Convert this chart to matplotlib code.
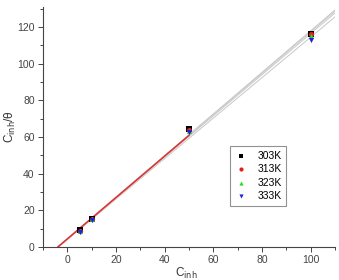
import numpy as np
import matplotlib
matplotlib.use("Agg")
import matplotlib.pyplot as plt
from matplotlib.ticker import MultipleLocator

plt.rcParams['font.family'] = ['Liberation Sans', 'DejaVu Sans']

conc = [5, 10, 50, 100]
temps = ["303K", "313K", "323K", "333K"]
c_theta = {
    "303K": [9.0, 15.5, 64.5, 116.5],
    "313K": [8.8, 15.3, 64.0, 116.0],
    "323K": [8.6, 15.0, 63.5, 115.0],
    "333K": [8.3, 14.7, 62.5, 113.0],
}
colors = ["black", "#e02020", "#22dd22", "#2020dd"]
markers = ["s", "o", "^", "v"]

fig = plt.figure(figsize=(3.39, 2.8), dpi=100)
ax = fig.add_axes([0.127, 0.118, 0.861, 0.857])

xfit = np.linspace(-4, 110, 50)
for t in temps:
    k, b = np.polyfit(conc, c_theta[t], 1)
    ax.plot(xfit, k * xfit + b, color="#c8c8c8", lw=0.7, zorder=1)

# red fit over the low range
k, b = np.polyfit(conc, c_theta["313K"], 1)
xr = np.linspace(-b / k, 50, 20)
ax.plot(xr, k * xr + b, color="#e03030", lw=1.1, zorder=2)

for t, c, m in zip(temps, colors, markers):
    ax.scatter(conc, c_theta[t], color=c, marker=m, s=14, label=t, zorder=3, linewidths=0)

ax.set_xlim(-10, 110)
ax.set_ylim(0, 131)
ax.xaxis.set_major_locator(MultipleLocator(20))
ax.xaxis.set_minor_locator(MultipleLocator(10))
ax.yaxis.set_major_locator(MultipleLocator(20))
ax.yaxis.set_minor_locator(MultipleLocator(10))
ax.spines['top'].set_visible(False)
ax.spines['right'].set_visible(False)
for s in ['left', 'bottom']:
    ax.spines[s].set_color('#444444')
    ax.spines[s].set_linewidth(0.8)
ax.tick_params(which='both', direction='out', colors='#444444', labelsize=7.5, width=0.7)
ax.tick_params(which='major', length=3.5, pad=2.5)
ax.tick_params(which='minor', length=2)

ax.set_xlabel(r"C$_{\mathrm{inh}}$", fontsize=8.5, color='#333333')
ax.xaxis.set_label_coords(0.49, -0.08)
ax.set_ylabel(r"C$_{\mathrm{inh}}$/θ", fontsize=8.5, color='#333333')
ax.yaxis.set_label_coords(-0.085, 0.5)

leg = ax.legend(loc='upper left', bbox_to_anchor=(0.64, 0.42), fontsize=7.5, frameon=True,
                fancybox=False, edgecolor='#777777', handletextpad=0.9, borderpad=0.45,
                labelspacing=0.32, handlelength=1.3, scatterpoints=1, markerscale=0.8,
                borderaxespad=0)
leg.get_frame().set_linewidth(0.8)

fig.savefig("out.png", dpi=100)
